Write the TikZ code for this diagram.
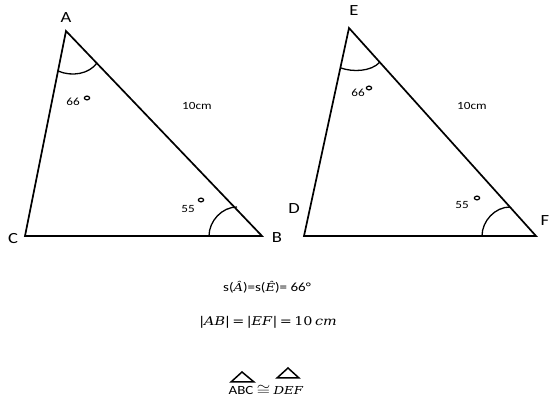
\documentclass[tikz,border=0pt]{standalone}
\usepackage{graphicx}
\usepackage{fontspec}
\setmainfont{Carlito}
\newfontfamily\mserif{DejaVu Serif}
\newcommand{\wid}[1]{\scalebox{1.2}[1]{#1}}
\begin{document}
\begin{tikzpicture}[x=1pt,y=-1pt,
  side/.style={line width=1.7pt},
  anglearc/.style={line width=1.3pt},
  degmark/.style={line width=1.2pt},
  vlabel/.style={font=\fontsize{15.5}{18}\selectfont, inner sep=0pt},
  small/.style={font=\fontsize{11}{13}\selectfont, inner sep=0pt},
  eqtext/.style={font=\fontsize{12.5}{15}\selectfont, inner sep=0pt, anchor=base}]
\useasboundingbox (0,0) rectangle (555,403);
% triangle ABC
\coordinate (A) at (66,31);
\coordinate (C) at (25,236);
\coordinate (B) at (262,236);
\draw[side] (A) -- (B) -- (C) -- cycle;
\draw[anglearc] (58,71) .. controls (72,77) and (89,74) .. (97,63);
\draw[anglearc] (209,236) .. controls (209,221) and (222,207) .. (237,207);
\node[vlabel] (lA) at (66,18) {\wid{A}};
\node[vlabel] (lC) at (13,239) {\wid{C}};
\node[vlabel] (lB) at (277,238) {\wid{B}};
\node[small] (a1) at (73,102) {\wid{66}};
\draw[degmark] (87,98) ellipse (2.6 and 1.9);
\node[small] (s1) at (197,106) {\wid{10cm}};
\node[small] (b1) at (188,209) {\wid{55}};
\draw[degmark] (201,200) ellipse (2.6 and 1.9);
% triangle DEF
\coordinate (E) at (349,28);
\coordinate (D) at (304,236);
\coordinate (F) at (536,236);
\draw[side] (E) -- (F) -- (D) -- cycle;
\draw[anglearc] (341,68) .. controls (352,72) and (371,72) .. (380,62);
\draw[anglearc] (482,236) .. controls (482,221) and (495,207) .. (510,207);
\node[vlabel] (lE) at (354,11) {\wid{E}};
\node[vlabel] (lD) at (294,209) {\wid{D}};
\node[vlabel] (lF) at (545,221) {\wid{F}};
\node[small] (a2) at (358,93) {\wid{66}};
\draw[degmark] (369,88) ellipse (2.6 and 1.9);
\node[small] (s2) at (472,106) {\wid{10cm}};
\node[small] (b2) at (462,205) {\wid{55}};
\draw[degmark] (477,198) ellipse (2.6 and 1.9);
% bottom statements
\node[eqtext] (t1) at (267,292) {\wid{s({\mserif\fontsize{11}{13}\selectfont\itshape Â})=s({\mserif\fontsize{11}{13}\selectfont\itshape Ê})= 66°}};
\node[eqtext, font=\mserif\fontsize{12}{15}\selectfont] (t2) at (268,326) {\wid{|\textit{AB}|\,=\,|\textit{EF}|\,=\,10\,\textit{cm}}};
\node[eqtext] (t3) at (266,395) {\wid{ABC {\fontsize{14}{16}\selectfont$\cong$} {\mserif\fontsize{11}{13}\selectfont\textit{DEF}}}};
\draw[line width=1.5pt, line join=miter] (231,382) -- (242,372) -- (254,382) -- cycle;
\draw[line width=1.5pt, line join=miter] (277,378) -- (288,368) -- (299,378) -- cycle;
\end{tikzpicture}
\end{document}
